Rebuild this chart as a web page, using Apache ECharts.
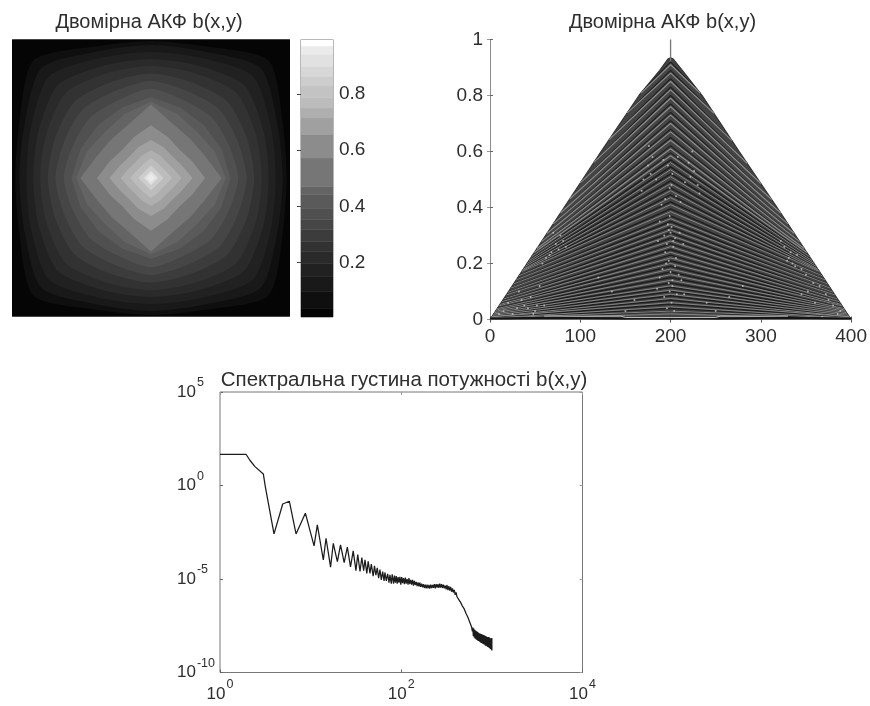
<!DOCTYPE html>
<html>
<head>
<meta charset="utf-8">
<script src="https://cdn.jsdelivr.net/npm/echarts@6/dist/echarts.min.js"></script>
<style>
html,body{margin:0;padding:0;background:#fff}
#main{width:870px;height:706px;filter:blur(0.7px)}
</style>
</head>
<body>
<div id="main"></div>
<script>
// Titles
const titleMap = 'Двомірна АКФ b(x,y)';
const titleSlices = 'Двомірна АКФ b(x,y)';
const titleSpectrum = 'Спектральна густина потужності b(x,y)';

// Colour bar: upper value of each band and the grey level read in that band
const barTop   = [.036,.096,.149,.197,.238,.274,.316,.352,.393,.441,.471,.572,.656,.715,.751,.787,.829,.864,.90,.942,.972,1];
const barGrey  = [5,15,25,33,42,50,60,70,80,90,100,118,140,160,175,188,195,205,215,225,235,255];
const barTicks = [.2,.4,.6,.8];

// Contour rings of the map, outermost first: level and radius in five directions
const ringLevel = [.02,.07,.12,.17,.22,.26,.30,.33,.37,.42,.46,.56,.60,.68,.73,.77,.85,.92,.96];
const ringE   = [1.7,.98,.95,.90,.85,.80,.745,.69,.63,.575,.54,.51,.39,.30,.22,.15,.09,.05,.03];
const ringENE = [1.7,1.03,.99,.94,.88,.82,.75,.68,.61,.55,.50,.42,.32,.24,.175,.12,.07,.04,.025];
const ringNE  = [1.7,1.20,1.12,1.04,.95,.87,.78,.70,.62,.54,.47,.40,.29,.22,.16,.11,.065,.035,.02];
const ringNNE = [1.7,1.03,.99,.94,.88,.82,.75,.68,.61,.55,.50,.42,.32,.24,.175,.12,.07,.04,.025];
const ringN   = [1.7,.99,.96,.91,.86,.81,.755,.70,.645,.585,.55,.53,.38,.275,.20,.145,.09,.05,.03];

// Slices plot: outline of the triangle
const outlineX = [0,41,82,123,165,188,197,200,203,213,235,276,318,359,400];
const outlineY = [0,.2,.4,.6,.8,.89,.93,.935,.93,.89,.8,.6,.4,.2,0];
const spikeX = [200,200];
const spikeY = [.92,1];
// Chevron ridges: height at the centre and how far each arm reaches sideways
const ridgeH = [.91,.88,.85,.82,.79,.76,.73,.70,.67,.64,.61,.585,.56,.535,.51,.485,.46,.435,.41,.385,.36,.34,.32,.30,.28,.26,.24,.22,.20,.18,.16,.14,.12,.105,.09,.075,.06,.045,.03,.02];
const ridgeReach = [33,48,68,85,100,112,122,130,137,143,148,151,154,157,159,161,163,164,165,168,171,174,177,180,182,185,187,189,190,192,193,194,195,196,197,198,198,199,199,200];
// Bright speckle
const speckX = [198,201,193,205,188,210,196,203,199,186,214,180,220,175,226,192,208,197,202,194,206,190,211,199,201,184,216,178,222,170,230,195,205,200,198,202,188,212,193,207,73,78,68,62,58,84,331,335,340,326,345,322,350,20,32,15,45,28,38,10,55,60,25,12,50,380,372,365,388,360,352,120,135,280,265,150,250,197,200,203,194,206,199,201,191,209,196,204,198,202,185,215,176,224,168,232,160,240,70,76,81,66,333,338,329,343,18,35,42,8,52,22,48,30,385,375,368,392,358,345];
const speckY = [.32,.33,.30,.29,.35,.31,.27,.26,.37,.28,.27,.58,.56,.55,.53,.57,.58,.55,.52,.43,.44,.41,.42,.47,.48,.5,.49,.52,.51,.5,.48,.2,.19,.17,.13,.12,.15,.14,.08,.09,.27,.3,.24,.22,.2,.26,.22,.2,.23,.26,.18,.28,.16,.06,.1,.03,.08,.14,.05,.02,.12,.05,.02,.06,.03,.05,.09,.12,.03,.06,.1,.15,.1,.12,.08,.03,.03,.34,.31,.28,.24,.22,.1,.06,.18,.16,.04,.03,.21,.14,.11,.09,.62,.6,.46,.45,.07,.06,.31,.25,.28,.23,.24,.19,.21,.27,.11,.07,.04,.09,.05,.13,.02,.04,.02,.07,.01,.1,.13,.09];
const floorX = [0,70,150,190,200,210,250,330,400];
const floorDark = [.004,.006,.004,.005,.004,.005,.004,.006,.004];
const floorLightX = [60,145,150,250,255,330];
const floorLightY = [.012,.012,.007,.007,.012,.012];

// Spectrum: decade exponents of frequency and power
const logFreq = [0,.287,.33,.386,.478,.50,.596,.692,.765,.839,.942,1.038,1.074,1.14,1.17,1.22,1.25,1.295,1.33,1.37,1.405,1.44,1.47,1.50,1.52,1.545,1.565,1.585,1.60,1.62,1.635,1.655,1.67,1.69,1.705,1.72,1.735,1.75,1.765,1.78,1.795,1.81,1.82,1.835,1.85,1.865,1.875,1.89,1.90,1.915,1.925,1.935,1.945,1.955,1.965,1.975,1.985,1.995,2.005,2.015,2.025,2.035,2.045,2.055,2.065,2.075,2.085,2.095,2.105,2.115,2.125,2.135,2.145,2.155,2.165,2.175,2.185,2.195,2.205,2.215,2.225,2.235,2.245,2.255,2.265,2.275,2.285,2.295,2.305,2.315,2.325,2.335,2.345,2.355,2.365,2.375,2.385,2.395,2.405,2.415,2.425,2.435,2.445,2.455,2.465,2.475,2.485,2.495,2.505,2.515,2.525,2.535,2.545,2.555,2.565,2.575,2.585,2.595,2.605,2.615,2.625,2.635,2.645,2.655,2.665,2.675,2.685,2.695,2.705,2.715,2.725,2.735,2.745,2.755,2.765,2.775,2.78,2.785,2.79,2.795,2.80,2.805,2.81,2.815,2.82,2.825,2.83,2.835,2.84,2.845,2.85,2.855,2.86,2.865,2.87,2.875,2.88,2.885,2.89,2.895,2.90,2.905,2.91,2.915,2.92,2.925,2.93,2.935,2.94,2.945,2.95,2.955,2.96,2.965,2.97,2.975,2.98,2.985,2.99,2.995,3,3];
const logPower = [1.67,1.67,1.35,1.01,.62,-.06,-2.59,-.99,-.84,-2.59,-1.48,-3.23,-2.11,-3.98,-2.82,-4.37,-3.09,-4.07,-3.18,-4.12,-3.30,-4.35,-3.5,-4.55,-3.7,-4.6,-3.85,-4.55,-3.98,-4.7,-4.05,-4.7,-4.2,-4.85,-4.3,-4.8,-4.4,-4.95,-4.5,-5.05,-4.6,-5.1,-4.65,-5.1,-4.72,-5.2,-4.78,-5.25,-4.75,-5.25,-4.82,-5.2,-4.85,-5.25,-4.9,-5.2,-4.88,-5.3,-4.9,-5.22,-4.95,-5.28,-4.92,-5.25,-5.0,-5.3,-4.95,-5.28,-5.05,-5.3,-5.05,-5.35,-5.1,-5.32,-5.15,-5.38,-5.18,-5.4,-5.2,-5.42,-5.25,-5.45,-5.27,-5.48,-5.3,-5.5,-5.3,-5.5,-5.32,-5.52,-5.3,-5.48,-5.32,-5.47,-5.28,-5.5,-5.27,-5.46,-5.28,-5.47,-5.25,-5.46,-5.28,-5.48,-5.3,-5.5,-5.35,-5.55,-5.32,-5.6,-5.38,-5.62,-5.42,-5.68,-5.5,-5.72,-5.58,-5.85,-5.72,-5.95,-5.85,-6.1,-6.0,-6.25,-6.2,-6.45,-6.35,-6.6,-6.55,-6.85,-6.75,-7.05,-6.95,-7.3,-7.2,-7.55,-7.45,-7.8,-7.6,-8.05,-7.65,-8.12,-7.72,-8.18,-7.75,-8.22,-7.8,-8.26,-7.82,-8.3,-7.86,-8.32,-7.9,-8.36,-7.92,-8.4,-7.94,-8.42,-7.96,-8.45,-7.98,-8.48,-8.0,-8.5,-8.02,-8.54,-8.05,-8.58,-8.08,-8.6,-8.1,-8.64,-8.1,-8.66,-8.12,-8.7,-8.15,-8.74,-8.18,-8.78,-8.15,-8.82,-7.95,-8.98,-8.02];

const xTicksSpectrum = [1,100,10000];
const yTicksSpectrum = [1e-10,1e-5,1,1e5];

const FONT = '"Liberation Sans", Arial, sans-serif';
const ink = '#2e2e2e', frame = '#8c8c8c';

function greyOf(v){
  let i = barTop.findIndex(t => v <= t);
  if (i < 0) i = barGrey.length - 1;
  const g = barGrey[i];
  return 'rgb(' + g + ',' + g + ',' + g + ')';
}
function sup(value){
  const e = Math.round(Math.log10(value));
  return '{a|10}{b|' + e + '}';
}
const supRich = {
  a:{fontFamily:FONT,fontSize:17,color:ink},
  b:{fontFamily:FONT,fontSize:12.5,color:ink,padding:[0,0,18,1]}
};
const lbl = {fontFamily:FONT,fontSize:19,color:ink};
const titleStyle = s => ({fontFamily:FONT,fontSize:s,fontWeight:'normal',color:ink});

function tip(x){
  let k = 0;
  while (k < outlineX.length - 2 && outlineX[k+1] < x) k++;
  const t = (x - outlineX[k]) / (outlineX[k+1] - outlineX[k]);
  return outlineY[k] + t * (outlineY[k+1] - outlineY[k]);
}
function ridgePoints(i, shift){
  const h = ridgeH[i] + shift, d = ridgeReach[i];
  const xL = 200 - d, xR = 200 + d;
  return [[xL, tip(xL)],[200,h],[xR, tip(xR)]];
}
const ridgeSeries = [];
ridgeH.forEach((h,i)=>{
  ridgeSeries.push({type:'line',xAxisIndex:2,yAxisIndex:2,symbol:'none',silent:true,z:4,
    data:ridgePoints(i,0.01),lineStyle:{color:'#1e1e1e',width:i<12?1.1:1.5}});
  ridgeSeries.push({type:'line',xAxisIndex:2,yAxisIndex:2,symbol:'none',silent:true,z:5,
    data:ridgePoints(i,0),lineStyle:{color:'#8c8c8c',width:i<12?1.2:0.9}});
});

const option = {
  backgroundColor:'#fff',
  animation:false,
  title:[
    {text:titleMap,left:144,top:7.5,textAlign:'center',textStyle:titleStyle(20)},
    {text:titleSlices,left:657.5,top:7.5,textAlign:'center',textStyle:titleStyle(20)},
    {text:titleSpectrum,left:399,top:365,textAlign:'center',textStyle:titleStyle(20.5)}
  ],
  grid:[
    {left:12.5,top:39.5,width:277,height:277,show:true,borderColor:frame,borderWidth:1,backgroundColor:'transparent'},
    {left:301,top:39.5,width:32,height:277.5,show:true,borderColor:'#707070',borderWidth:1,backgroundColor:'transparent'},
    {left:490,top:39.5,width:362.5,height:280,show:false},
    {left:220,top:392,width:362.5,height:280.5,show:true,borderColor:'#777',borderWidth:1,backgroundColor:'transparent'}
  ],
  xAxis:[
    {type:'value',gridIndex:0,min:-1,max:1,show:false},
    {type:'value',gridIndex:1,min:0,max:1,show:false},
    {type:'value',gridIndex:2,min:0,max:400,interval:100,axisLine:{show:false},
     axisTick:{show:true,inside:true,length:3,lineStyle:{color:'#555'}},splitLine:{show:false},
     axisLabel:{...lbl,margin:8,showMinLabel:true,showMaxLabel:true}},
    {type:'log',logBase:10,gridIndex:3,min:1,max:10000,
     axisLine:{show:false},splitLine:{show:false},minorTick:{show:false},
     axisTick:{show:true,inside:true,length:3,customValues:xTicksSpectrum,lineStyle:{color:'#666'}},
     axisLabel:{customValues:xTicksSpectrum,margin:6,formatter:sup,rich:supRich}},
    {type:'value',gridIndex:2,position:'top',min:0,max:400,interval:100,
     axisLine:{show:true,lineStyle:{color:'#8c8c8c'}},
     axisTick:{show:true,inside:true,length:3,lineStyle:{color:'#555'}},axisLabel:{show:false},splitLine:{show:false}},
    {type:'log',logBase:10,gridIndex:3,position:'top',min:1,max:10000,
     axisLine:{show:false},splitLine:{show:false},minorTick:{show:false},
     axisTick:{show:true,inside:true,length:3,customValues:xTicksSpectrum,lineStyle:{color:'#999'}},
     axisLabel:{show:false}}
  ],
  yAxis:[
    {type:'value',gridIndex:0,min:-1,max:1,show:false},
    {type:'value',gridIndex:1,position:'right',min:.005,max:.995,
     axisLine:{show:false},splitLine:{show:false},
     axisTick:{show:true,inside:true,length:4,customValues:barTicks,lineStyle:{color:'#444'}},
     axisLabel:{...lbl,customValues:barTicks,margin:6,formatter:v=>v.toFixed(1)}},
    {type:'value',gridIndex:2,min:0,max:1,interval:.2,axisLine:{show:false},splitLine:{show:false},
     axisTick:{show:true,inside:true,length:3,lineStyle:{color:'#666'}},
     axisLabel:{...lbl,margin:7,formatter:v=>(v===0||v===1)?String(v):v.toFixed(1)}},
    {type:'log',logBase:10,gridIndex:3,min:1e-10,max:1e5,
     axisLine:{show:false},splitLine:{show:false},minorTick:{show:false},
     axisTick:{show:true,inside:true,length:3,customValues:yTicksSpectrum,lineStyle:{color:'#666'}},
     axisLabel:{customValues:yTicksSpectrum,margin:43,align:'left',formatter:sup,rich:supRich}},
    {type:'value',gridIndex:2,position:'right',min:0,max:1,interval:.2,
     axisLine:{show:true,lineStyle:{color:'#8c8c8c'}},
     axisTick:{show:true,inside:true,length:3,lineStyle:{color:'#999'}},axisLabel:{show:false},splitLine:{show:false}},
    {type:'value',gridIndex:1,position:'left',min:.005,max:.995,
     axisLine:{show:false},splitLine:{show:false},
     axisTick:{show:true,inside:true,length:4,customValues:barTicks,lineStyle:{color:'#444'}},
     axisLabel:{show:false}},
    {type:'log',logBase:10,gridIndex:3,position:'right',min:1e-10,max:1e5,
     axisLine:{show:false},splitLine:{show:false},minorTick:{show:false},
     axisTick:{show:true,inside:true,length:3,customValues:yTicksSpectrum,lineStyle:{color:'#999'}},
     axisLabel:{show:false}}
  ],
  series:[
    {type:'custom',xAxisIndex:0,yAxisIndex:0,clip:true,silent:true,coordinateSystem:'cartesian2d',
     data:ringLevel.map((v,i)=>[i,v]),
     renderItem(params,api){
       const i = api.value(0);
       const dirs = [ringE[i],ringENE[i],ringNE[i],ringNNE[i],ringN[i]];
       const pts = [];
       for (let s=0;s<16;s++){
         const m = s%8, r = dirs[m<=4?m:8-m], a = s*Math.PI/8;
         pts.push(api.coord([r*Math.cos(a), r*Math.sin(a)]));
       }
       return {type:'polygon',shape:{points:pts,smooth:i<=8?0.25:0},style:{fill:greyOf(api.value(1))}};
     },encode:{x:0,y:1}},
    {type:'custom',xAxisIndex:1,yAxisIndex:1,clip:true,silent:true,
     data:barTop.map((t,i)=>[i,t]),
     renderItem(params,api){
       const i = api.value(0);
       const lo = i ? barTop[i-1] : 0;
       const a = api.coord([0,api.value(1)]), b = api.coord([1,lo]);
       const g = barGrey[i];
       return {type:'rect',shape:{x:a[0],y:a[1],width:b[0]-a[0],height:b[1]-a[1]},
         style:{fill:'rgb('+g+','+g+','+g+')',stroke:'rgb('+g+','+g+','+g+')',lineWidth:0.5}};
     },encode:{x:0,y:1}},
    {type:'line',xAxisIndex:2,yAxisIndex:2,symbol:'none',silent:true,z:2,
     data:outlineX.map((x,i)=>[x,outlineY[i]]),
     lineStyle:{color:'#333',width:1.2},areaStyle:{color:'#444444',opacity:1}},
    {type:'line',xAxisIndex:2,yAxisIndex:2,symbol:'none',silent:true,z:3,
     data:spikeX.map((x,i)=>[x,spikeY[i]]),lineStyle:{color:'#777',width:1.3}},
    ...ridgeSeries,
    {type:'scatter',xAxisIndex:2,yAxisIndex:2,silent:true,z:6,symbolSize:2,
     data:speckX.map((x,i)=>[x,speckY[i]]).filter(p=>p[1]<tip(p[0])-.01),itemStyle:{color:'#c8c8c8'}},
    {type:'line',xAxisIndex:2,yAxisIndex:2,symbol:'none',silent:true,z:7,
     data:floorX.map((x,i)=>[x,floorDark[i]]),lineStyle:{color:'#141414',width:2}},
    {type:'line',xAxisIndex:2,yAxisIndex:2,symbol:'none',silent:true,z:8,
     data:floorLightX.map((x,i)=>[x,floorLightY[i]]),lineStyle:{color:'#bdbdbd',width:1}},
    {type:'line',xAxisIndex:3,yAxisIndex:3,symbol:'none',silent:true,z:4,
     data:logFreq.map((f,i)=>[Math.pow(10,f),Math.pow(10,logPower[i])]),
     lineStyle:{color:'#1c1c1c',width:1.25}}
  ]
};
const chart = echarts.init(document.getElementById('main'),null,{renderer:'canvas'});
chart.setOption(option);
</script>
</body>
</html>
